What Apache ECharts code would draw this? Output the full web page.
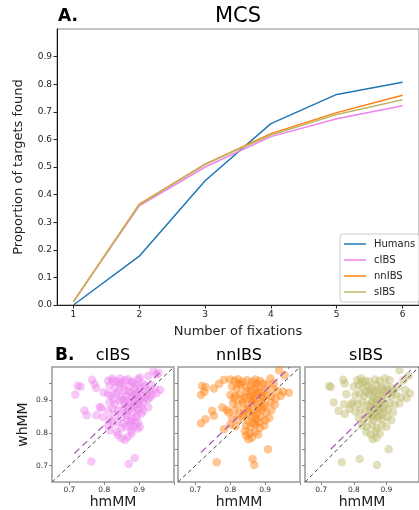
<!DOCTYPE html>
<html>
<head>
<meta charset="UTF-8">
<script src="https://cdn.jsdelivr.net/npm/echarts@6/dist/echarts.min.js"></script>
<style>
  html, body { margin: 0; padding: 0; background: #fff; }
  #main { width: 419px; height: 510px; }
</style>
</head>
<body>
<div id="main"></div>
<script>
// ---- panel A: proportion of targets found vs fixations ----
var fixations = [1, 2, 3, 4, 5, 6];
var humans = [0.0, 0.177, 0.450, 0.657, 0.763, 0.807];
var cibs   = [0.012, 0.359, 0.500, 0.610, 0.675, 0.722];
var nnibs  = [0.012, 0.365, 0.510, 0.621, 0.697, 0.760];
var sibs   = [0.012, 0.363, 0.510, 0.616, 0.690, 0.744];
var yTickVals = [0, 0.1, 0.2, 0.3, 0.4, 0.5, 0.6, 0.7, 0.8, 0.9];

// ---- panel B: hmMM (x) vs whMM (y), one point per image ----
var cibsPts = [
  [0.717,0.916],[0.724,0.943],[0.732,0.940],[0.743,0.868],[0.750,0.853],[0.765,0.961],[0.772,0.948],[0.777,0.936],
  [0.777,0.853],[0.787,0.878],[0.791,0.876],[0.798,0.923],[0.763,0.713],[0.887,0.723],[0.870,0.705],
  [0.811,0.958],[0.825,0.958],[0.835,0.956],[0.849,0.953],[0.868,0.963],[0.883,0.953],[0.897,0.963],[0.902,0.968],
  [0.926,0.973],[0.950,0.978],[0.941,0.987],[0.956,0.982],
  [0.815,0.943],[0.830,0.938],[0.844,0.948],[0.854,0.940],[0.873,0.943],[0.888,0.933],[0.902,0.938],[0.916,0.943],
  [0.931,0.928],[0.945,0.933],[0.960,0.930],
  [0.811,0.918],[0.820,0.913],[0.835,0.920],[0.849,0.908],[0.863,0.913],[0.878,0.923],[0.892,0.918],[0.907,0.913],
  [0.921,0.918],[0.931,0.908],[0.950,0.920],
  [0.815,0.893],[0.830,0.888],[0.844,0.898],[0.859,0.888],[0.873,0.893],[0.888,0.898],[0.897,0.888],[0.912,0.893],[0.926,0.903],
  [0.811,0.868],[0.825,0.873],[0.839,0.868],[0.854,0.873],[0.868,0.868],[0.883,0.878],[0.897,0.873],[0.912,0.868],[0.926,0.878],
  [0.796,0.848],[0.815,0.843],[0.830,0.853],[0.849,0.848],[0.863,0.853],[0.878,0.843],[0.892,0.848],[0.907,0.858],[0.897,0.833],
  [0.811,0.823],[0.825,0.828],[0.839,0.833],[0.854,0.828],[0.873,0.823],[0.888,0.833],[0.902,0.818],
  [0.815,0.808],[0.835,0.803],[0.849,0.813],[0.863,0.818],[0.878,0.808],[0.897,0.813],
  [0.839,0.793],[0.849,0.783],[0.859,0.778],[0.868,0.788],[0.878,0.798],
  [0.858,0.930],[0.867,0.900],[0.880,0.910],[0.886,0.885],[0.893,0.900],[0.900,0.925],[0.905,0.878],[0.872,0.875],
  [0.862,0.862],[0.883,0.862],[0.895,0.858],[0.876,0.835],[0.866,0.838],[0.885,0.820],[0.853,0.900],[0.840,0.925],
  [0.826,0.902],[0.918,0.930],[0.935,0.945],[0.910,0.950],[0.892,0.945],[0.878,0.955],[0.860,0.960],[0.845,0.965],
  [0.822,0.965],[0.937,0.915],[0.915,0.905],[0.902,0.900],[0.888,0.915],[0.870,0.925]
];
var nnibsPts = [
  [0.719,0.942],[0.729,0.939],[0.716,0.915],[0.726,0.925],[0.753,0.935],[0.768,0.949],[0.782,0.961],
  [0.748,0.867],[0.753,0.852],[0.729,0.841],[0.716,0.829],[0.777,0.877],[0.790,0.869],
  [0.761,0.710],[0.864,0.720],[0.869,0.702],[0.908,0.750],[0.782,0.811],
  [0.800,0.962],[0.812,0.958],[0.822,0.963],[0.835,0.955],[0.848,0.960],[0.862,0.955],[0.872,0.962],[0.885,0.958],
  [0.895,0.950],[0.915,0.965],[0.940,0.990],[0.956,0.975],
  [0.805,0.940],[0.818,0.935],[0.830,0.945],[0.845,0.938],[0.858,0.942],[0.870,0.935],[0.882,0.940],[0.900,0.930],
  [0.920,0.935],[0.935,0.928],[0.952,0.925],[0.968,0.922],
  [0.800,0.915],[0.815,0.912],[0.828,0.918],[0.842,0.908],[0.855,0.915],[0.868,0.910],[0.880,0.918],[0.893,0.905],
  [0.905,0.915],[0.918,0.910],[0.930,0.905],[0.945,0.912],
  [0.808,0.890],[0.822,0.885],[0.836,0.893],[0.850,0.885],[0.862,0.892],[0.875,0.888],[0.888,0.895],[0.900,0.885],
  [0.915,0.892],[0.928,0.885],
  [0.795,0.862],[0.812,0.868],[0.826,0.860],[0.840,0.870],[0.853,0.862],[0.866,0.868],[0.878,0.860],[0.890,0.870],
  [0.903,0.862],[0.918,0.868],
  [0.805,0.845],[0.820,0.840],[0.835,0.848],[0.850,0.838],[0.862,0.845],[0.875,0.840],[0.888,0.848],[0.900,0.838],[0.912,0.845],
  [0.800,0.825],[0.815,0.820],[0.845,0.822],[0.858,0.818],[0.872,0.825],[0.885,0.815],[0.898,0.822],
  [0.842,0.805],[0.856,0.798],[0.870,0.803],[0.880,0.795],[0.862,0.785],[0.852,0.780],[0.845,0.792],
  [0.860,0.928],[0.875,0.920],[0.888,0.925],[0.846,0.925],[0.833,0.902],[0.866,0.898],[0.880,0.875],[0.895,0.878],
  [0.852,0.872],[0.838,0.855],[0.870,0.852],[0.882,0.832],[0.866,0.830],[0.825,0.950],[0.905,0.945],[0.925,0.950],
  [0.810,0.905],[0.875,0.950],[0.892,0.910],[0.858,0.905]
];
var sibsPts = [
  [0.724,0.942],[0.729,0.939],[0.738,0.892],[0.753,0.867],[0.763,0.710],[0.818,0.720],[0.871,0.702],[0.907,0.750],
  [0.767,0.961],[0.772,0.950],[0.777,0.917],[0.770,0.887],[0.787,0.872],[0.772,0.857],[0.791,0.887],
  [0.810,0.960],[0.822,0.965],[0.835,0.958],[0.848,0.955],[0.865,0.962],[0.880,0.958],[0.895,0.965],[0.910,0.960],
  [0.940,0.990],[0.968,0.973],[0.952,0.960],
  [0.800,0.940],[0.815,0.945],[0.828,0.938],[0.842,0.942],[0.856,0.935],[0.870,0.945],[0.885,0.938],[0.900,0.942],
  [0.918,0.935],[0.935,0.940],[0.958,0.930],[0.972,0.920],
  [0.805,0.915],[0.818,0.920],[0.832,0.912],[0.846,0.918],[0.860,0.910],[0.873,0.918],[0.888,0.912],[0.902,0.918],
  [0.916,0.910],[0.930,0.915],[0.945,0.908],[0.962,0.905],
  [0.798,0.892],[0.812,0.888],[0.826,0.895],[0.840,0.885],[0.855,0.892],[0.868,0.888],[0.882,0.895],[0.895,0.885],
  [0.910,0.890],[0.925,0.885],[0.940,0.890],
  [0.805,0.865],[0.820,0.870],[0.835,0.862],[0.850,0.868],[0.864,0.860],[0.878,0.868],[0.892,0.862],[0.905,0.870],[0.920,0.862],
  [0.815,0.845],[0.830,0.840],[0.845,0.848],[0.860,0.838],[0.874,0.845],[0.888,0.840],[0.902,0.848],[0.915,0.838],
  [0.825,0.822],[0.840,0.818],[0.855,0.825],[0.870,0.815],[0.885,0.822],[0.900,0.818],
  [0.838,0.802],[0.852,0.795],[0.866,0.805],[0.880,0.798],[0.858,0.781],[0.870,0.785],
  [0.850,0.930],[0.865,0.925],[0.878,0.930],[0.893,0.928],[0.838,0.925],[0.858,0.900],[0.872,0.900],[0.886,0.903],
  [0.848,0.880],[0.862,0.876],[0.876,0.878],[0.890,0.876],[0.855,0.852],[0.868,0.852],[0.882,0.855],[0.825,0.955],
  [0.905,0.930],[0.920,0.925]
];
// identity line and fitted line (start, end) for each panel
var identity = [[0.65, 0.65], [1.0, 1.0]];
var cibsFit  = [[0.714, 0.737], [0.964, 0.988]];
var nnibsFit = [[0.716, 0.740], [0.971, 1.0]];
var sibsFit  = [[0.729, 0.750], [0.974, 0.990]];
var scatterTicks = [0.7, 0.8, 0.9];

var FONT = 'DejaVu Sans';
var colors = { Humans: '#1f77b4', cIBS: '#ee82ee', nnIBS: '#ff7f0e', sIBS: '#bdb76b' };

function pairs(xs, ys) {
  return xs.map(function (x, i) { return [x, ys[i]]; });
}

var grids = [
  { left: 57, top: 29, width: 369, height: 276, show: true, borderColor: '#888', borderWidth: 1 }
];
var xAxes = [{
  type: 'value', gridIndex: 0, min: 0.75, max: 6.25,
  name: 'Number of fixations', nameLocation: 'middle', nameGap: 20,
  nameTextStyle: { fontFamily: FONT, fontSize: 13, color: '#222' },
  axisLine: { lineStyle: { color: '#222', width: 1 } },
  axisTick: { length: 3.5, lineStyle: { color: '#222' }, customValues: fixations },
  axisLabel: { fontFamily: FONT, fontSize: 9, color: '#222', margin: 5, customValues: fixations },
  splitLine: { show: false }
}];
var yAxes = [{
  type: 'value', gridIndex: 0, min: 0, max: 1,
  name: 'Proportion of targets found', nameLocation: 'middle', nameGap: 32, nameRotate: 90,
  nameTextStyle: { fontFamily: FONT, fontSize: 13, color: '#222' },
  axisLine: { show: true, lineStyle: { color: '#111', width: 1 } },
  axisTick: { show: true, length: 3.5, lineStyle: { color: '#222' }, customValues: yTickVals },
  axisLabel: { fontFamily: FONT, fontSize: 9, color: '#222', margin: 5, customValues: yTickVals,
    formatter: function (v) { return v.toFixed(1); } },
  splitLine: { show: false }
}];

var series = [
  { name: 'Humans', data: pairs(fixations, humans) },
  { name: 'cIBS', data: pairs(fixations, cibs) },
  { name: 'nnIBS', data: pairs(fixations, nnibs) },
  { name: 'sIBS', data: pairs(fixations, sibs) }
].map(function (s) {
  return {
    name: s.name, type: 'line', xAxisIndex: 0, yAxisIndex: 0, data: s.data,
    symbol: 'none', showSymbol: false, smooth: false, color: colors[s.name],
    lineStyle: { width: 1.5, color: colors[s.name] }
  };
});

var panels = [
  { name: 'cIBS', pts: cibsPts, fit: cibsFit, left: 52 },
  { name: 'nnIBS', pts: nnibsPts, fit: nnibsFit, left: 178 },
  { name: 'sIBS', pts: sibsPts, fit: sibsFit, left: 305 }
];
var graphicText = [
  { type: 'text', left: 58, top: 8, style: { text: 'A.', font: 'bold 17px "DejaVu Sans"', fill: '#000' } },
  { type: 'text', x: 238, y: 17, style: { text: 'MCS', font: '21px "DejaVu Sans"', fill: '#000', align: 'center', verticalAlign: 'middle' } },
  { type: 'text', left: 55, top: 347, style: { text: 'B.', font: 'bold 17px "DejaVu Sans"', fill: '#000' } }
];

panels.forEach(function (p, k) {
  var gi = k + 1;
  grids.push({ left: p.left, top: 367, width: 122, height: 116, show: true, borderColor: '#999', borderWidth: 1.5 });
  xAxes.push({
    type: 'value', gridIndex: gi, min: 0.65, max: 1.0,
    name: 'hmMM', nameLocation: 'middle', nameGap: 11,
    nameTextStyle: { fontFamily: FONT, fontSize: 14, color: '#222' },
    axisLine: { show: false },
    axisTick: { length: 3, lineStyle: { color: '#888' }, customValues: [0.7, 0.8, 0.9, 1.0] },
    axisLabel: { fontFamily: FONT, fontSize: 7.5, color: '#333', margin: 4, customValues: scatterTicks,
      formatter: function (v) { return v.toFixed(1); } },
    splitLine: { show: false }
  });
  yAxes.push({
    type: 'value', gridIndex: gi, min: 0.65, max: 1.0,
    name: k === 0 ? 'whMM' : '', nameLocation: 'middle', nameGap: 22, nameRotate: 90,
    nameTextStyle: { fontFamily: FONT, fontSize: 14, color: '#222' },
    axisLine: { show: false },
    axisTick: { show: true, length: 3, lineStyle: { color: '#888' }, customValues: [0.7, 0.75, 0.8, 0.85, 0.9, 0.95] },
    axisLabel: { show: k === 0, fontFamily: FONT, fontSize: 7.5, color: '#333', margin: 4, customValues: scatterTicks,
      formatter: function (v) { return v.toFixed(1); } },
    splitLine: { show: false }
  });
  series.push({
    name: p.name + ' images', type: 'scatter', xAxisIndex: gi, yAxisIndex: gi, data: p.pts,
    symbolSize: 8.5, itemStyle: { color: colors[p.name], opacity: 0.45 }, z: 2
  });
  series.push({
    name: p.name + ' fit', type: 'line', xAxisIndex: gi, yAxisIndex: gi, data: p.fit,
    symbol: 'none', lineStyle: { color: '#a855b5', width: 1.2, type: [7, 4] }, z: 3
  });
  series.push({
    name: p.name + ' identity', type: 'line', xAxisIndex: gi, yAxisIndex: gi, data: identity,
    symbol: 'none', lineStyle: { color: '#444', width: 1, type: [4, 3] }, z: 4
  });
  graphicText.push({ type: 'text', x: p.left + 61, y: 356, style: { text: p.name, font: '16px "DejaVu Sans"', fill: '#000', align: 'center', verticalAlign: 'middle' } });
});

var chart = echarts.init(document.getElementById('main'), null, { renderer: 'canvas' });
chart.setOption({
  animation: false,
  backgroundColor: '#fff',
  textStyle: { fontFamily: FONT },
  grid: grids,
  xAxis: xAxes,
  yAxis: yAxes,
  legend: {
    data: ['Humans', 'cIBS', 'nnIBS', 'sIBS'],
    icon: 'rect',
    orient: 'vertical', left: 340, top: 234,
    padding: [4, 4, 4, 4], itemWidth: 22, itemHeight: 1.5, itemGap: 4,
    borderColor: '#ccc', borderWidth: 1, borderRadius: 3, backgroundColor: 'rgba(255,255,255,0.85)',
    textStyle: { fontFamily: FONT, fontSize: 10, lineHeight: 12, color: '#222', padding: [0, 0, 0, 3] }
  },
  graphic: graphicText,
  series: series
});
</script>
</body>
</html>
